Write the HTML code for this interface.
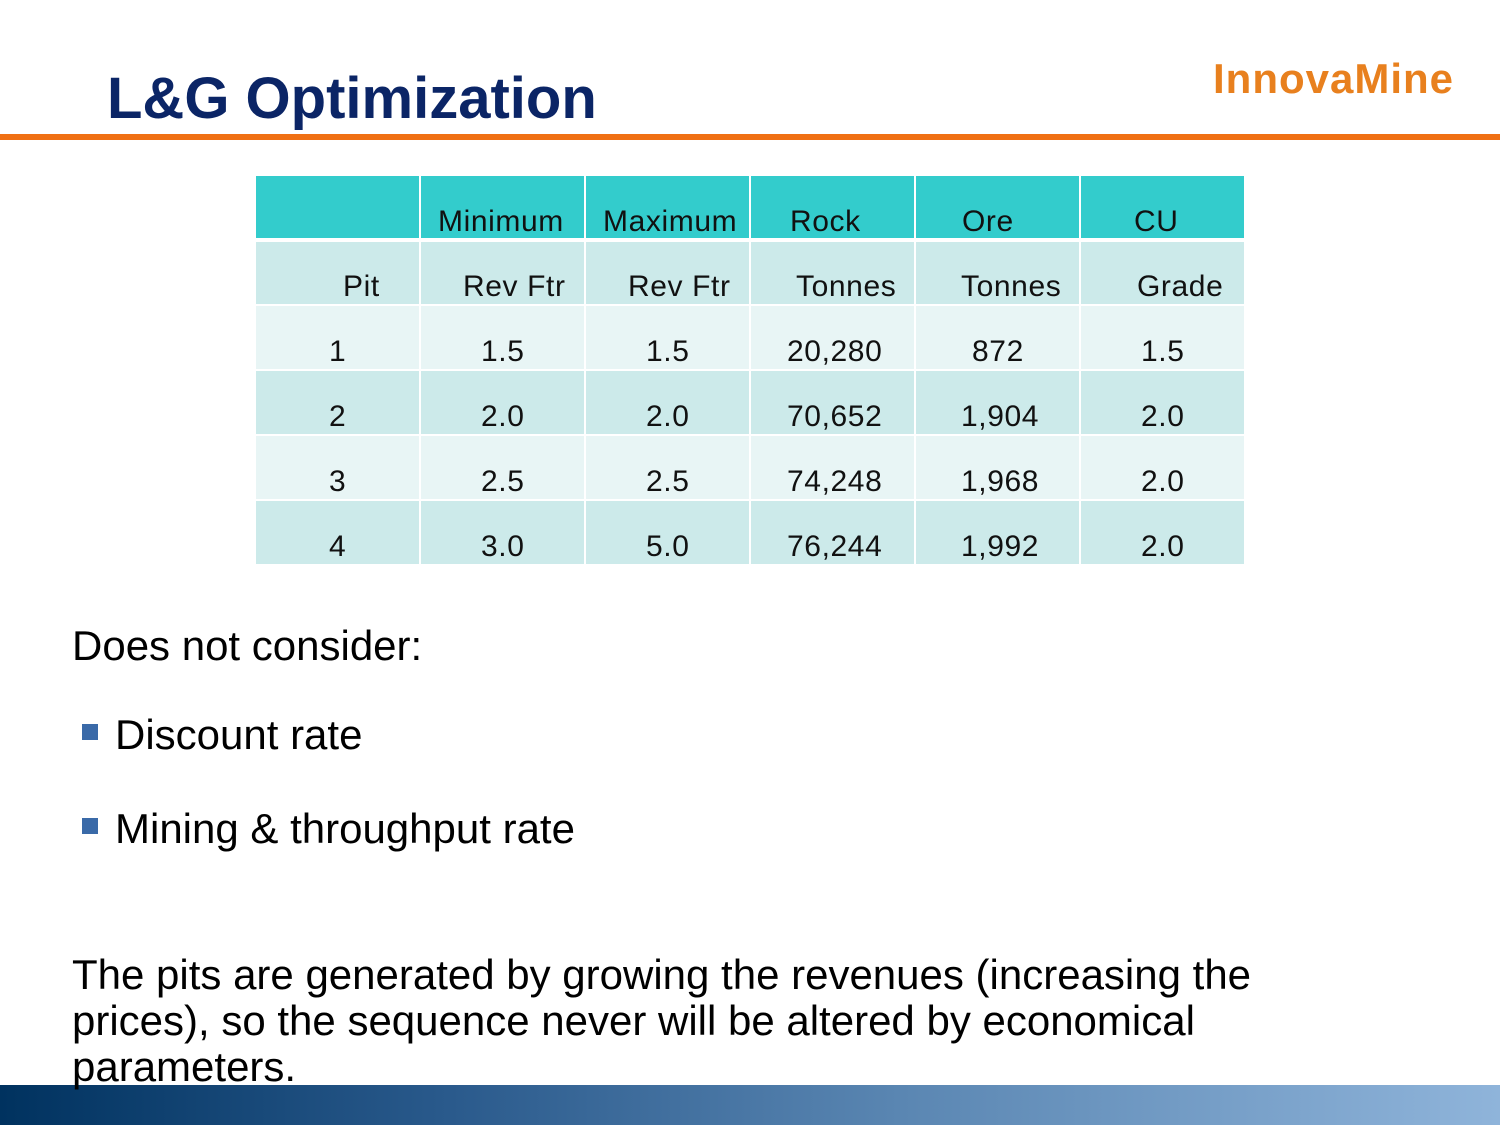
<!DOCTYPE html>
<html><head><meta charset="utf-8"><style>
*{margin:0;padding:0}
body{width:1500px;height:1125px;position:relative;background:#fff;overflow:hidden;font-family:"Liberation Sans",sans-serif}
.a{position:absolute;white-space:nowrap}
.c{position:absolute}
.t{position:absolute;font-size:30px;letter-spacing:0.6px;color:#111;line-height:1;white-space:nowrap}
</style></head><body>
<div class="a" style="left:107px;top:70px;font-size:58px;font-weight:bold;color:#0b2566;line-height:1">L&amp;G Optimization</div>
<div class="a" style="left:1213px;top:58px;font-size:42px;font-weight:bold;color:#e8801e;line-height:1;letter-spacing:1px">InnovaMine</div>
<div class="c" style="left:0;top:134px;width:1500px;height:6px;background:#f07014"></div>

<div class="c" style="left:256px;top:176px;width:988px;height:62px;background:#33cccc"></div>
<div class="c" style="left:256px;top:242px;width:988px;height:62px;background:#cceaea"></div>
<div class="c" style="left:256px;top:306px;width:988px;height:63px;background:#e8f5f5"></div>
<div class="c" style="left:256px;top:371px;width:988px;height:63px;background:#cceaea"></div>
<div class="c" style="left:256px;top:436px;width:988px;height:63px;background:#e8f5f5"></div>
<div class="c" style="left:256px;top:501px;width:988px;height:63px;background:#cceaea"></div>
<div class="c" style="left:419px;top:176px;width:2px;height:388px;background:#fff"></div>
<div class="c" style="left:584px;top:176px;width:2px;height:388px;background:#fff"></div>
<div class="c" style="left:749px;top:176px;width:2px;height:388px;background:#fff"></div>
<div class="c" style="left:914px;top:176px;width:2px;height:388px;background:#fff"></div>
<div class="c" style="left:1079px;top:176px;width:2px;height:388px;background:#fff"></div>

<div class="t" style="left:438px;top:207px">Minimum</div>
<div class="t" style="left:603px;top:207px">Maximum</div>
<div class="t" style="left:790px;top:207px">Rock</div>
<div class="t" style="left:962px;top:207px">Ore</div>
<div class="t" style="left:1134px;top:207px">CU</div>
<div class="t" style="left:343px;top:272px">Pit</div>
<div class="t" style="left:463px;top:272px">Rev Ftr</div>
<div class="t" style="left:628px;top:272px">Rev Ftr</div>
<div class="t" style="left:796px;top:272px">Tonnes</div>
<div class="t" style="left:961px;top:272px">Tonnes</div>
<div class="t" style="left:1137px;top:272px">Grade</div>

<div class="t" style="left:329px;top:337px">1</div><div class="t" style="left:481px;top:337px">1.5</div><div class="t" style="left:646px;top:337px">1.5</div><div class="t" style="left:787px;top:337px">20,280</div><div class="t" style="left:972px;top:337px">872</div><div class="t" style="left:1141px;top:337px">1.5</div>
<div class="t" style="left:329px;top:402px">2</div><div class="t" style="left:481px;top:402px">2.0</div><div class="t" style="left:646px;top:402px">2.0</div><div class="t" style="left:787px;top:402px">70,652</div><div class="t" style="left:961px;top:402px">1,904</div><div class="t" style="left:1141px;top:402px">2.0</div>
<div class="t" style="left:329px;top:467px">3</div><div class="t" style="left:481px;top:467px">2.5</div><div class="t" style="left:646px;top:467px">2.5</div><div class="t" style="left:787px;top:467px">74,248</div><div class="t" style="left:961px;top:467px">1,968</div><div class="t" style="left:1141px;top:467px">2.0</div>
<div class="t" style="left:329px;top:532px">4</div><div class="t" style="left:481px;top:532px">3.0</div><div class="t" style="left:646px;top:532px">5.0</div><div class="t" style="left:787px;top:532px">76,244</div><div class="t" style="left:961px;top:532px">1,992</div><div class="t" style="left:1141px;top:532px">2.0</div>

<div class="a" style="left:72px;top:623px;font-size:42px;line-height:46px;color:#000">Does not consider:</div>
<div class="c" style="left:82px;top:724px;width:16px;height:16px;background:#3a6aa8"></div>
<div class="a" style="left:115px;top:712px;font-size:42px;line-height:46px;color:#000">Discount rate</div>
<div class="c" style="left:82px;top:818px;width:16px;height:16px;background:#3a6aa8"></div>
<div class="a" style="left:115px;top:806px;font-size:42px;line-height:46px;color:#000">Mining &amp; throughput rate</div>

<div class="c" style="left:0;top:1085px;width:1500px;height:40px;background:linear-gradient(to right,#00325f,#2a5a8c 30%,#5a86b2 60%,#8fb4da)"></div>
<div class="a" style="left:72px;top:952px;font-size:42px;line-height:46px;color:#000;white-space:normal;width:1300px">The pits are generated by growing the revenues (increasing the<br>prices), so the sequence never will be altered by economical<br>parameters.</div>
</body></html>
